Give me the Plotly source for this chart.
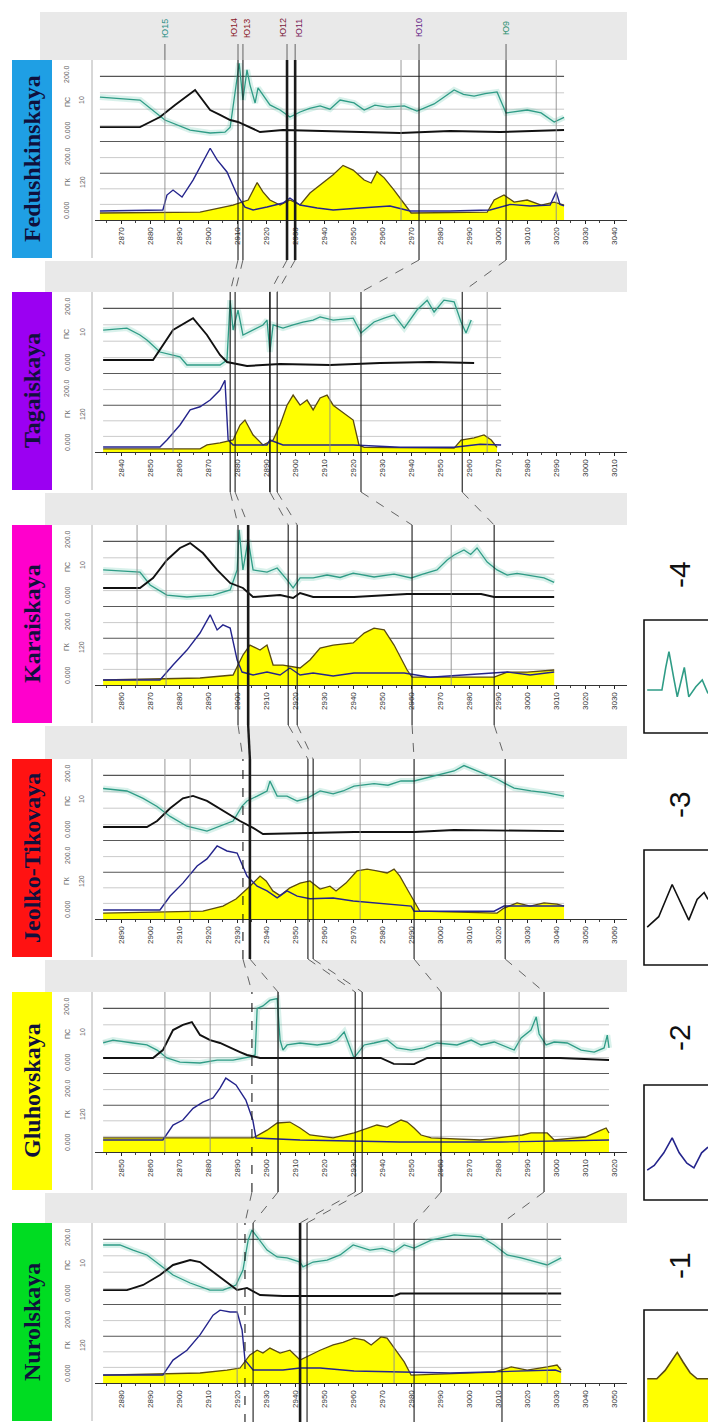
import math
import plotly.graph_objects as go

# ------------------------------------------------------------------
# Wells, top to bottom, and the first depth shown on each depth axis (m)
# ------------------------------------------------------------------
WELL_NAMES = ["Fedushkinskaya", "Tagaiskaya", "Karaiskaya",
              "Jeolko-Tikovaya", "Gluhovskaya", "Nurolskaya"]
AXIS_START = [2861, 2831, 2851, 2881, 2841, 2871]

# Log curves as (depth m, relative value 0..5) pairs
# teal / black -> upper track, blue / yellow -> lower track
FED_TEAL = [(2862.7, 2.74), (2876.5, 2.56), (2885.1, 1.34), (2893.8, 0.73), (2900.7, 0.55), (2905.8, 0.60),
            (2907.6, 0.90), (2908.6, 2.10), (2910.7, 4.80), (2912.0, 2.56), (2913.4, 4.40), (2914.4, 3.50),
            (2916.2, 2.38), (2917.2, 3.30), (2921.3, 2.26), (2924.8, 1.95), (2928.2, 1.52), (2931.7, 1.83),
            (2935.0, 2.05), (2938.6, 2.20), (2942.0, 2.00), (2945.5, 2.56), (2950.3, 2.38), (2953.8, 1.95),
            (2957.5, 2.25), (2961.7, 2.13), (2967.6, 2.20), (2972.0, 1.89), (2977.9, 2.32), (2981.0, 2.70),
            (2984.8, 3.17), (2988.0, 2.90), (2991.7, 2.80), (2995.5, 2.95), (2999.6, 3.05), (3002.7, 1.77),
            (3006.0, 1.85), (3010.0, 1.95), (3014.8, 1.77), (3019.3, 1.22), (3022.7, 1.50)]
FED_BLACK = [(2862.7, 0.91), (2876.5, 0.91), (2883.4, 1.52), (2888.6, 2.26), (2895.5, 3.17), (2900.7, 1.95),
             (2904.1, 1.65), (2907.6, 1.34), (2910.3, 1.22), (2917.9, 0.61), (2925.8, 0.73), (2950.3, 0.61),
             (2966.2, 0.55), (2983.4, 0.67), (3000.7, 0.61), (3022.7, 0.73)]
FED_BLUE = [(2862.7, 0.58), (2884.4, 0.64), (2885.8, 1.60), (2887.9, 1.92), (2891.0, 1.47), (2894.8, 2.56),
            (2900.7, 4.60), (2903.1, 3.85), (2906.5, 3.08), (2910.0, 1.60), (2912.7, 0.83), (2915.5, 0.64),
            (2920.3, 0.83), (2925.8, 1.09), (2928.2, 1.41), (2931.7, 0.96), (2937.6, 0.77), (2943.1, 0.64),
            (2952.4, 0.77), (2962.7, 0.90), (2969.6, 0.58), (2983.4, 0.58), (2997.2, 0.64), (3004.1, 1.00),
            (3011.0, 0.90), (3017.9, 0.96), (3020.0, 1.80), (3021.3, 1.00), (3022.7, 0.90)]
FED_YELLOW = [(2862.7, 0.45), (2897.2, 0.50), (2908.6, 0.96), (2913.8, 1.28), (2916.9, 2.40), (2918.9, 1.80),
              (2921.3, 1.28), (2924.8, 0.96), (2928.2, 1.28), (2931.7, 0.96), (2935.1, 1.73), (2938.6, 2.24),
              (2943.1, 2.90), (2946.5, 3.50), (2950.0, 3.20), (2953.8, 2.56), (2956.2, 2.37), (2958.2, 3.10),
              (2960.7, 2.70), (2964.1, 1.92), (2967.6, 1.09), (2970.0, 0.45), (2996.2, 0.50), (2998.6, 1.28),
              (3002.0, 1.60), (3005.5, 1.15), (3010.0, 1.28), (3014.8, 0.96), (3019.3, 1.15), (3022.7, 0.96)]

TAG_TEAL = [(2833.8, 2.68), (2842.0, 2.80), (2846.5, 2.38), (2848.9, 2.07), (2853.4, 1.34), (2860.3, 1.04),
            (2862.7, 0.55), (2874.1, 0.55), (2876.5, 0.85), (2877.6, 4.50), (2878.6, 2.68), (2880.3, 3.90),
            (2882.0, 2.38), (2885.5, 2.68), (2888.9, 2.99), (2890.3, 3.29), (2891.3, 1.34), (2892.4, 2.99),
            (2895.8, 2.80), (2899.3, 2.99), (2902.7, 3.17), (2906.2, 3.29), (2908.6, 3.48), (2913.1, 3.29),
            (2920.0, 3.41), (2922.7, 2.50), (2927.2, 3.17), (2930.7, 3.41), (2934.1, 3.60), (2937.6, 2.80),
            (2942.0, 3.90), (2945.5, 4.50), (2947.9, 3.78), (2951.3, 4.50), (2954.8, 4.40), (2957.2, 3.17),
            (2958.9, 2.50), (2960.7, 3.29)]
TAG_BLACK = [(2833.8, 0.85), (2851.0, 0.85), (2857.9, 2.68), (2864.8, 3.40), (2869.6, 2.38), (2874.1, 1.16),
             (2876.5, 0.73), (2883.4, 0.49), (2894.8, 0.61), (2912.0, 0.55), (2929.3, 0.67), (2946.5, 0.73),
             (2961.7, 0.67)]
TAG_BLUE = [(2833.8, 0.32), (2853.4, 0.32), (2855.8, 0.77), (2860.3, 1.73), (2863.8, 2.70), (2867.2, 2.90),
            (2870.7, 3.33), (2874.1, 3.97), (2875.8, 4.60), (2876.9, 0.77), (2878.6, 0.45), (2890.3, 0.45),
            (2891.3, 0.77), (2895.8, 0.45), (2920.0, 0.45), (2936.2, 0.30), (2954.8, 0.30), (2963.8, 0.50),
            (2971.0, 0.45)]
TAG_YELLOW = [(2833.8, 0.20), (2867.2, 0.20), (2869.6, 0.45), (2874.1, 0.58), (2878.6, 0.77), (2881.0, 1.73),
              (2882.7, 2.05), (2885.5, 1.09), (2888.9, 0.45), (2892.4, 0.77), (2894.8, 1.73), (2897.2, 3.00),
              (2899.3, 3.65), (2901.7, 3.00), (2904.1, 3.33), (2906.2, 2.70), (2908.6, 3.46), (2911.0, 3.65),
              (2913.1, 3.00), (2916.5, 2.56), (2920.0, 2.05), (2922.0, 0.45), (2923.8, 0.30), (2954.8, 0.25),
              (2957.2, 0.77), (2961.7, 0.90), (2965.1, 1.09), (2967.6, 0.77), (2969.6, 0.30)]

KAR_TEAL = [(2853.8, 2.26), (2866.5, 2.13), (2870.0, 1.34), (2875.8, 0.73), (2882.7, 0.61), (2891.7, 0.73),
            (2897.6, 1.04), (2900.0, 2.26), (2900.7, 4.70), (2902.0, 2.26), (2903.8, 4.10), (2905.5, 2.26),
            (2910.3, 2.13), (2913.8, 2.38), (2917.2, 1.65), (2919.3, 1.16), (2921.7, 1.77), (2926.2, 1.77),
            (2931.0, 1.95), (2935.5, 1.80), (2940.0, 2.07), (2947.2, 1.83), (2954.1, 2.00), (2960.0, 1.77),
            (2964.0, 2.00), (2968.9, 2.26), (2972.4, 2.87), (2974.8, 3.17), (2978.2, 3.48), (2980.5, 3.20),
            (2982.7, 3.60), (2986.2, 2.74), (2989.6, 2.26), (2993.1, 1.95), (2996.5, 2.05), (3000.0, 1.95),
            (3005.8, 1.77), (3009.3, 1.50)]
KAR_BLACK = [(2853.8, 1.16), (2866.5, 1.16), (2871.0, 1.77), (2875.8, 2.87), (2880.3, 3.60), (2883.8, 3.90),
             (2888.2, 3.29), (2893.1, 2.26), (2897.6, 1.46), (2902.0, 1.16), (2905.5, 0.61), (2914.8, 0.73),
             (2919.3, 0.55), (2921.7, 0.85), (2926.2, 0.61), (2940.3, 0.61), (2958.6, 0.79), (2984.1, 0.79),
             (2988.6, 0.61), (3009.3, 0.61)]
KAR_BLUE = [(2853.8, 0.32), (2873.4, 0.32), (2877.9, 1.28), (2882.7, 2.24), (2887.2, 3.33), (2890.7, 4.50),
            (2893.1, 3.53), (2895.1, 3.85), (2897.6, 3.65), (2900.0, 1.60), (2901.7, 0.83), (2905.5, 0.64),
            (2910.3, 0.83), (2914.8, 0.64), (2918.2, 1.09), (2921.7, 0.64), (2926.2, 0.77), (2933.1, 0.58),
            (2940.3, 0.77), (2957.6, 0.77), (2966.5, 0.50), (2988.6, 0.77), (2993.1, 0.83), (3001.0, 0.64),
            (3009.3, 0.83)]
KAR_YELLOW = [(2853.8, 0.32), (2887.2, 0.45), (2898.6, 0.64), (2902.0, 1.92), (2904.4, 2.56), (2907.9, 2.24),
              (2910.3, 2.56), (2912.4, 1.28), (2915.8, 1.28), (2921.7, 1.09), (2925.1, 1.60), (2928.6, 2.37),
              (2933.1, 2.56), (2940.0, 2.70), (2943.8, 3.33), (2947.2, 3.65), (2950.7, 3.53), (2954.1, 2.56),
              (2958.6, 0.96), (2960.3, 0.50), (2988.6, 0.50), (2993.1, 0.83), (3000.0, 0.83), (3009.3, 0.96)]

JEO_TEAL = [(2883.8, 3.20), (2892.0, 3.05), (2897.6, 2.60), (2902.4, 2.10), (2906.9, 1.50), (2912.7, 0.90),
            (2919.6, 0.60), (2924.1, 0.90), (2928.6, 1.22), (2931.7, 2.13), (2933.4, 2.44), (2936.9, 2.74),
            (2940.3, 3.05), (2941.3, 3.65), (2943.8, 2.74), (2947.2, 2.74), (2950.7, 2.44), (2954.1, 2.60),
            (2958.6, 3.05), (2963.1, 2.87), (2966.5, 3.05), (2970.3, 3.35), (2977.2, 3.50), (2982.0, 3.40),
            (2986.5, 3.66), (2991.0, 3.66), (2997.9, 3.96), (3004.8, 4.27), (3008.2, 4.60), (3014.1, 4.15),
            (3019.6, 3.78), (3022.0, 3.54), (3025.5, 3.23), (3031.3, 3.05), (3036.9, 2.93), (3042.7, 2.74)]
JEO_BLACK = [(2883.8, 0.85), (2898.9, 0.85), (2902.4, 1.22), (2906.9, 2.00), (2911.3, 2.60), (2914.8, 2.75),
             (2919.6, 2.44), (2926.5, 1.71), (2931.0, 1.22), (2935.5, 0.80), (2938.9, 0.43), (2970.3, 0.55),
             (2991.0, 0.55), (3004.8, 0.67), (3042.7, 0.60)]
JEO_BLUE = [(2883.8, 0.58), (2903.4, 0.58), (2906.9, 1.47), (2911.3, 2.30), (2916.2, 3.40), (2919.6, 3.85),
            (2923.1, 4.68), (2926.5, 4.36), (2930.0, 4.23), (2933.4, 2.75), (2936.9, 2.10), (2940.3, 1.80),
            (2943.8, 1.35), (2947.2, 1.80), (2950.7, 1.47), (2955.1, 1.30), (2963.1, 1.35), (2970.0, 1.15),
            (2990.0, 0.83), (2991.0, 0.50), (3018.6, 0.50), (3022.0, 0.83), (3042.7, 0.83)]
JEO_YELLOW = [(2883.8, 0.38), (2918.2, 0.50), (2925.1, 0.83), (2929.6, 1.28), (2934.4, 2.10), (2937.9, 2.75),
              (2940.0, 2.44), (2942.3, 1.80), (2944.8, 1.50), (2948.2, 2.00), (2951.7, 2.30), (2955.1, 2.44),
              (2958.6, 1.92), (2962.0, 2.10), (2964.1, 1.80), (2967.5, 2.30), (2971.3, 3.08), (2974.8, 3.20),
              (2978.2, 3.08), (2981.7, 2.95), (2984.1, 3.20), (2986.1, 2.75), (2988.6, 1.92), (2991.0, 1.15),
              (2993.0, 0.50), (3019.6, 0.38), (3022.0, 0.70), (3026.5, 1.03), (3031.0, 0.83), (3035.8, 1.03),
              (3040.3, 0.96), (3042.7, 0.83)]

GLU_TEAL = [(2843.8, 1.90), (2847.2, 2.07), (2854.1, 1.89), (2858.9, 1.77), (2862.4, 1.46), (2865.8, 0.98),
            (2870.3, 0.73), (2877.2, 0.67), (2883.1, 0.85), (2888.6, 0.85), (2894.4, 1.04), (2896.2, 1.16),
            (2896.9, 4.00), (2898.9, 4.15), (2901.3, 4.50), (2903.8, 4.60), (2904.8, 2.07), (2905.8, 1.46),
            (2907.2, 1.77), (2911.7, 1.89), (2917.6, 1.77), (2922.1, 1.89), (2924.5, 2.07), (2926.9, 2.56),
            (2930.3, 0.98), (2933.8, 1.77), (2937.2, 1.89), (2941.7, 2.07), (2945.1, 1.59), (2950.0, 1.46),
            (2954.4, 1.59), (2958.9, 1.89), (2965.8, 1.77), (2970.7, 2.07), (2974.1, 1.77), (2978.6, 1.95),
            (2985.5, 1.46), (2987.9, 2.20), (2991.3, 2.68), (2993.1, 3.48), (2994.1, 2.44), (2996.5, 1.77),
            (2999.3, 1.95), (3003.8, 1.89), (3008.6, 1.46), (3013.1, 1.34), (3016.5, 1.59), (3017.6, 2.37),
            (3018.2, 1.59)]
GLU_BLACK = [(2843.8, 0.98), (2861.0, 0.98), (2864.4, 1.46), (2867.9, 2.68), (2871.3, 2.99), (2874.4, 3.17),
             (2877.2, 2.38), (2880.7, 2.07), (2884.1, 1.89), (2887.6, 1.59), (2891.0, 1.34), (2893.4, 1.16),
             (2897.9, 0.98), (2939.5, 0.98), (2944.0, 0.62), (2951.0, 0.60), (2955.5, 0.98), (3001.3, 0.98),
             (3018.2, 0.85)]
GLU_BLUE = [(2843.8, 0.77), (2864.4, 0.77), (2867.9, 1.73), (2871.3, 2.05), (2874.8, 2.80), (2878.2, 3.20),
            (2881.7, 3.46), (2884.1, 4.10), (2886.1, 4.74), (2889.6, 4.30), (2893.0, 3.33), (2895.4, 2.05),
            (2896.5, 0.90), (2911.7, 0.77), (2946.2, 0.64), (2980.7, 0.64), (3018.2, 0.77)]
GLU_YELLOW = [(2843.8, 0.90), (2888.6, 0.90), (2895.5, 0.90), (2900.3, 1.40), (2903.8, 1.86), (2908.2, 1.92),
              (2911.7, 1.54), (2915.1, 1.09), (2923.1, 0.90), (2930.3, 1.22), (2934.8, 1.54), (2938.2, 1.73),
              (2941.7, 1.60), (2946.5, 2.05), (2948.6, 1.92), (2951.0, 1.54), (2953.4, 1.09), (2956.9, 0.90),
              (2973.8, 0.77), (2988.3, 1.09), (2991.3, 1.22), (2996.9, 1.22), (2999.3, 0.77), (3010.0, 0.96),
              (3015.5, 1.40), (3017.2, 1.54), (3018.2, 1.22)]

NUR_TEAL = [(2873.8, 3.66), (2879.6, 3.66), (2884.1, 3.35), (2888.9, 3.05), (2893.4, 2.44), (2897.9, 1.83),
            (2903.8, 1.34), (2910.6, 0.91), (2915.1, 0.91), (2919.6, 1.22), (2922.0, 2.13), (2923.8, 3.96),
            (2925.1, 4.57), (2926.9, 4.15), (2930.3, 3.35), (2933.8, 2.93), (2937.2, 2.87), (2941.7, 2.62),
            (2942.7, 2.32), (2946.2, 2.62), (2951.0, 2.74), (2955.5, 3.05), (2960.0, 3.66), (2965.8, 3.35),
            (2970.0, 3.45), (2974.1, 3.23), (2977.6, 3.66), (2981.0, 3.47), (2986.9, 3.96), (2994.8, 4.27),
            (3000.0, 4.20), (3004.1, 4.15), (3008.6, 3.66), (3013.1, 3.05), (3017.9, 2.87), (3023.4, 2.62),
            (3026.9, 2.44), (3031.7, 2.87)]
NUR_BLACK = [(2873.8, 0.91), (2882.0, 0.91), (2887.6, 1.22), (2893.4, 1.83), (2897.9, 2.44), (2903.8, 2.74),
             (2907.2, 2.62), (2911.7, 2.01), (2916.5, 1.34), (2920.0, 0.91), (2923.4, 1.04), (2927.9, 0.61),
             (2935.8, 0.55), (2960.3, 0.55), (2968.2, 0.58), (2974.1, 0.55), (2976.2, 0.70), (3031.7, 0.70)]
NUR_BLUE = [(2873.8, 0.51), (2894.4, 0.51), (2897.9, 1.47), (2902.7, 2.10), (2907.2, 3.08), (2911.7, 4.35),
            (2914.1, 4.67), (2917.6, 4.55), (2920.0, 4.55), (2921.7, 3.40), (2922.7, 1.47), (2925.5, 0.83),
            (2935.8, 0.83), (2941.7, 0.96), (2948.6, 0.96), (2960.3, 0.77), (2993.4, 0.64), (3029.7, 0.83),
            (3031.7, 0.70)]
NUR_YELLOW = [(2873.8, 0.50), (2907.2, 0.64), (2916.5, 0.83), (2921.0, 0.96), (2924.4, 1.80), (2926.9, 2.10),
              (2928.9, 1.92), (2931.3, 2.24), (2934.8, 1.92), (2938.2, 2.10), (2941.7, 1.47), (2945.1, 1.80),
              (2948.6, 2.10), (2953.1, 2.44), (2956.5, 2.60), (2960.3, 2.88), (2963.8, 2.75), (2966.2, 2.44),
              (2969.6, 2.95), (2971.7, 2.88), (2974.1, 2.24), (2977.6, 1.35), (2980.0, 0.50), (3008.6, 0.70),
              (3014.5, 1.03), (3020.0, 0.83), (3026.9, 1.03), (3030.3, 1.15), (3031.7, 0.83)]

# Correlated horizons (same order in every well) and extra reference depths, m
FED_HORIZONS = [2910.3, 2912.0, 2927.2, 2930.0, 2972.7, 3002.7]
TAG_HORIZONS = [2877.6, 2879.3, 2891.3, 2893.8, 2922.7, 2957.6]
KAR_HORIZONS = [2900.3, 2903.8, 2917.6, 2920.7, 2960.3, 2988.6]
JEO_HORIZONS = [2932.0, 2934.4, 2954.4, 2956.2, 2991.0, 3022.4]
GLU_HORIZONS = [2895.1, 2904.1, 2930.7, 2933.1, 2960.3, 2995.8]
NUR_HORIZONS = [2922.7, 2925.5, 2941.7, 2944.1, 2981.0, 3011.3]

FED_GRID = [2885.1, 2966.5, 3020.0]
TAG_GRID = [2857.9, 2912.0, 2966.2]
KAR_GRID = [2865.5, 2875.5, 2973.8]
JEO_GRID = [2905.1, 2913.8, 2972.4]
GLU_GRID = [2865.1, 2880.7, 2987.2]
NUR_GRID = [2895.1, 2920.0, 2974.1, 3026.9]

# Horizon names shown in the header above the first well
HEADER_DEPTHS = [FED_GRID[0]] + FED_HORIZONS
HEADER_TEXT = ["Ю15", "Ю14", "Ю13", "Ю12", "Ю11", "Ю10", "Ю9"]

# Legend icons (x 0..10, y 0..10) and captions
LEGEND_CAPTIONS = ["-1", "-2", "-3", "-4"]
ICON_X_YELLOW = [0.5, 2.0, 3.3, 4.2, 5.2, 6.1, 7.2, 8.3, 10.0]
ICON_Y_YELLOW = [3.6, 3.6, 4.3, 5.0, 5.8, 5.0, 4.1, 3.6, 3.6]
ICON_X_BLUE = [0.5, 1.6, 3.1, 4.4, 5.5, 6.7, 7.8, 9.0, 10.0]
ICON_Y_BLUE = [2.6, 3.0, 4.1, 5.4, 4.1, 3.2, 2.8, 4.1, 4.6]
ICON_X_BLACK = [0.5, 2.3, 4.4, 6.0, 7.0, 8.3, 9.4, 10.0]
ICON_Y_BLACK = [3.3, 4.2, 7.0, 5.0, 3.9, 5.7, 6.3, 5.7]
ICON_X_TEAL = [0.5, 2.8, 3.4, 3.9, 4.7, 5.2, 6.3, 7.0, 8.1, 9.1, 10.0]
ICON_Y_TEAL = [3.8, 3.8, 5.8, 7.2, 4.7, 3.2, 5.8, 3.2, 4.1, 4.7, 3.5]

# ------------------------------------------------------------------
# Grouping per well
# ------------------------------------------------------------------
TEAL = [FED_TEAL, TAG_TEAL, KAR_TEAL, JEO_TEAL, GLU_TEAL, NUR_TEAL]
BLACK = [FED_BLACK, TAG_BLACK, KAR_BLACK, JEO_BLACK, GLU_BLACK, NUR_BLACK]
BLUE = [FED_BLUE, TAG_BLUE, KAR_BLUE, JEO_BLUE, GLU_BLUE, NUR_BLUE]
YELLOW = [FED_YELLOW, TAG_YELLOW, KAR_YELLOW, JEO_YELLOW, GLU_YELLOW, NUR_YELLOW]
HORIZONS = [FED_HORIZONS, TAG_HORIZONS, KAR_HORIZONS, JEO_HORIZONS, GLU_HORIZONS, NUR_HORIZONS]
GRIDS = [FED_GRID, TAG_GRID, KAR_GRID, JEO_GRID, GLU_GRID, NUR_GRID]

# ------------------------------------------------------------------
# Layout geometry and styles (pixels of the 708 x 1422 page)
# ------------------------------------------------------------------
W, H = 708, 1422
PANEL_TOP = [60, 292, 525, 759, 992, 1223]
UPPER_H, LOWER_H, BLOCK_H = 82, 78, 198
X0_PX, X1_PX = 95, 627
DEPTH_SPAN = 183.4
BOX_COLORS = ["#1f9fe4", "#9b00f2", "#ff00cc", "#ff1212", "#ffff00", "#00dc22"]
HEADER_COLORS = ["#2a8f86", "#8b1a2a", "#8b1a2a", "#7a1a3a", "#7a1a5a", "#6a2a8a", "#2a8f70"]
HORIZON_WIDTH = [[1.1, 1.1, 2.6, 2.6, 1.1, 1.1],
                 [1.1, 1.1, 1.6, 1.1, 1.1, 1.1],
                 [1.1, 2.6, 1.1, 1.1, 1.1, 1.1],
                 [1.1, 2.6, 1.1, 1.1, 1.1, 1.1],
                 [1.1, 1.3, 1.1, 1.1, 1.1, 1.1],
                 [1.1, 1.1, 2.6, 1.1, 1.1, 1.1]]
HORIZON_DASH = [["solid"] * 6, ["solid"] * 6, ["solid"] * 6,
                ["dash"] + ["solid"] * 5, ["dash"] + ["solid"] * 5, ["dash"] + ["solid"] * 5]
TEAL_C, BLACK_C, BLUE_C, YEL_C, YEL_LINE = "#2f9c86", "#111111", "#24248c", "#ffff00", "#5a4a12"


def ypx(p):
    return 1 - p / H


def xpx(p):
    return p / W


XDOM = [xpx(X0_PX), xpx(X1_PX)]


def depth_x(i, d):
    """Paper x of depth d on the depth axis of well i."""
    return XDOM[0] + (d - AXIS_START[i]) / DEPTH_SPAN * (XDOM[1] - XDOM[0])


def ax_name(kind, k):
    return f"{kind}axis" if k == 1 else f"{kind}axis{k}"


def ax_ref(kind, k):
    return kind if k == 1 else f"{kind}{k}"


def unzip(pairs):
    return [p[0] for p in pairs], [p[1] for p in pairs]


def label(x, y, text, size, color, family="Liberation Sans", xref="paper", xshift=0):
    return dict(xref=xref, yref="paper", x=x, y=y, text=text, textangle=-90, showarrow=False,
                xanchor="center", yanchor="middle", xshift=xshift,
                font=dict(family=family, size=size, color=color))


fig = go.Figure()
shapes, annotations, axes = [], [], {}
FONT = "Liberation Sans"

# header band and gaps between wells
shapes.append(dict(type="rect", xref="paper", yref="paper", x0=xpx(40), x1=xpx(627),
                   y0=ypx(60), y1=ypx(12), fillcolor="#e9e9e9", line=dict(width=0), layer="below"))
for i in range(len(WELL_NAMES) - 1):
    shapes.append(dict(type="rect", xref="paper", yref="paper", x0=xpx(45), x1=xpx(627),
                       y0=ypx(PANEL_TOP[i + 1]), y1=ypx(PANEL_TOP[i] + BLOCK_H + 3),
                       fillcolor="#e9e9e9", line=dict(width=0), layer="below"))

for i, name in enumerate(WELL_NAMES):
    T = PANEL_TOP[i]
    r0 = AXIS_START[i]
    xk, ylk, yuk = i + 1, 2 * i + 1, 2 * i + 2
    xr, ylr, yur = ax_ref("x", xk), ax_ref("y", ylk), ax_ref("y", yuk)

    first = math.ceil(r0 / 10) * 10
    ticks = list(range(first, int(r0 + DEPTH_SPAN) + 1, 10))
    axes[ax_name("x", xk)] = dict(
        domain=XDOM, range=[r0, r0 + DEPTH_SPAN], anchor=ylr,
        tickmode="array", tickvals=ticks, ticktext=[str(t) for t in ticks],
        tickangle=-90, tickfont=dict(family=FONT, size=8, color="#333"),
        ticks="outside", ticklen=3, tickcolor="#222", showline=True, linecolor="#333",
        linewidth=1, showgrid=False, zeroline=False, fixedrange=True,
        minor=dict(ticks="outside", ticklen=2, dtick=5, tickcolor="#444"))
    common_y = dict(range=[0, 5], anchor=xr, showticklabels=False, showgrid=False,
                    zeroline=False, ticks="", fixedrange=True)
    axes[ax_name("y", ylk)] = dict(domain=[ypx(T + UPPER_H + LOWER_H), ypx(T + UPPER_H)], **common_y)
    axes[ax_name("y", yuk)] = dict(domain=[ypx(T + UPPER_H), ypx(T)], **common_y)

    # track grid, drawn over the logged interval
    d_start = min(c[0][0] for c in (TEAL[i], BLACK[i], BLUE[i], YELLOW[i]))
    d_end = max(c[-1][0] for c in (TEAL[i], BLACK[i], BLUE[i], YELLOW[i]))
    for yr, dark in ((yur, 4), (ylr, 3)):
        for lvl in (1, 2, 3, 4):
            shapes.append(dict(type="line", xref=xr, yref=yr, x0=d_start, x1=d_end, y0=lvl, y1=lvl,
                               line=dict(color="#555" if lvl == dark else "#bcbcbc",
                                         width=1.1 if lvl == dark else 0.8), layer="below"))
    shapes.append(dict(type="line", xref=xr, yref=yur, x0=d_start, x1=d_end, y0=0, y1=0,
                       line=dict(color="#222", width=1.4), layer="below"))

    # curves
    d, v = unzip(YELLOW[i])
    fig.add_trace(go.Scatter(x=d, y=v, mode="lines", fill="tozeroy", fillcolor=YEL_C,
                             line=dict(color=YEL_LINE, width=1.3), xaxis=xr, yaxis=ylr, hoverinfo="skip"))
    d, v = unzip(BLUE[i])
    fig.add_trace(go.Scatter(x=d, y=v, mode="lines", line=dict(color=BLUE_C, width=1.4),
                             xaxis=xr, yaxis=ylr, hoverinfo="skip"))
    d, v = unzip(TEAL[i])
    fig.add_trace(go.Scatter(x=d, y=v, mode="lines", line=dict(color="rgba(80,190,165,0.22)", width=6),
                             xaxis=xr, yaxis=yur, hoverinfo="skip"))
    fig.add_trace(go.Scatter(x=d, y=v, mode="lines", line=dict(color=TEAL_C, width=1.3),
                             xaxis=xr, yaxis=yur, hoverinfo="skip"))
    d, v = unzip(BLACK[i])
    fig.add_trace(go.Scatter(x=d, y=v, mode="lines", line=dict(color=BLACK_C, width=1.9),
                             xaxis=xr, yaxis=yur, hoverinfo="skip"))

    # reference depths and horizons
    for g in GRIDS[i]:
        shapes.append(dict(type="line", xref=xr, yref="paper", x0=g, x1=g,
                           y0=ypx(T + UPPER_H + LOWER_H), y1=ypx(T),
                           line=dict(color="#8c8c8c", width=0.9)))
    for h, hd in enumerate(HORIZONS[i]):
        shapes.append(dict(type="line", xref=xr, yref="paper", x0=hd, x1=hd,
                           y0=ypx(T + BLOCK_H + 2), y1=ypx(T),
                           line=dict(color="#1a1a1a", width=HORIZON_WIDTH[i][h],
                                     dash=HORIZON_DASH[i][h])))

    # left edge of the depth column
    shapes.append(dict(type="line", xref="paper", yref="paper", x0=xpx(92), x1=xpx(92),
                       y0=ypx(T + BLOCK_H), y1=ypx(T), line=dict(color="#b0b0b0", width=1)))

    # well name box
    shapes.append(dict(type="rect", xref="paper", yref="paper", x0=xpx(12), x1=xpx(52),
                       y0=ypx(T + BLOCK_H), y1=ypx(T), fillcolor=BOX_COLORS[i],
                       line=dict(width=0), layer="below"))
    annotations.append(label(xpx(32), ypx(T + BLOCK_H / 2), f"<b>{name}</b>", 24, "#10103c",
                             family="Liberation Serif"))

    # curve scale captions
    for txt, yy, xx in (("200.0", T + 14, 67), ("ПС", T + 42, 67), ("0.000", T + 70, 67),
                        ("200.0", T + 96, 67), ("ГК", T + 122, 67), ("0.000", T + 150, 67),
                        ("10", T + 40, 82), ("120", T + 122, 82)):
        annotations.append(label(xpx(xx), ypx(yy), txt, 7, "#666"))

# correlation lines between neighbouring wells
for i in range(len(WELL_NAMES) - 1):
    y_top = ypx(PANEL_TOP[i] + BLOCK_H + 2)
    y_bot = ypx(PANEL_TOP[i + 1])
    for h in range(len(HORIZONS[i])):
        thick = HORIZON_WIDTH[i][h] > 2 and HORIZON_WIDTH[i + 1][h] > 2
        shapes.append(dict(type="line", xref="paper", yref="paper",
                           x0=depth_x(i, HORIZONS[i][h]), y0=y_top,
                           x1=depth_x(i + 1, HORIZONS[i + 1][h]), y1=y_bot,
                           line=dict(color="#1a1a1a" if thick else "#555",
                                     width=2.4 if thick else 0.9,
                                     dash="solid" if thick else "dash")))

# header labels for the first well
for k, (hd, txt) in enumerate(zip(HEADER_DEPTHS, HEADER_TEXT)):
    shapes.append(dict(type="line", xref="x", yref="paper", x0=hd, x1=hd,
                       y0=ypx(PANEL_TOP[0]), y1=ypx(44), line=dict(color="#555", width=0.9)))
    shift = -4 if k in (1, 3) else (4 if k in (2, 4) else 0)
    annotations.append(label(hd, ypx(28), txt, 9, HEADER_COLORS[k], xref="x", xshift=shift))

# legend: four framed icons with captions
LEGEND_BOX = [(1310, 1430), (1085, 1200), (850, 965), (620, 733)]
LEGEND_TEXT_Y = [1266, 1038, 805, 575]
ICONS = [(ICON_X_YELLOW, ICON_Y_YELLOW, YEL_LINE), (ICON_X_BLUE, ICON_Y_BLUE, BLUE_C),
         (ICON_X_BLACK, ICON_Y_BLACK, BLACK_C), (ICON_X_TEAL, ICON_Y_TEAL, TEAL_C)]
for j, ((top, bot), (ix, iy, col)) in enumerate(zip(LEGEND_BOX, ICONS)):
    k = 7 + j
    yk = 13 + j
    xr, yr = ax_ref("x", k), ax_ref("y", yk)
    axes[ax_name("x", k)] = dict(domain=[xpx(644), 1.0], range=[0, 10], anchor=yr, visible=False,
                                 fixedrange=True)
    axes[ax_name("y", yk)] = dict(domain=[max(0.0, ypx(bot)), ypx(top)],
                                  range=[0, 10 * (min(bot, H) - top) / (bot - top)] if bot > H else [0, 10],
                                  anchor=xr, visible=False, fixedrange=True)
    if j == 0:
        fig.add_trace(go.Scatter(x=ix, y=iy, mode="lines", fill="tozeroy", fillcolor=YEL_C,
                                 line=dict(color=col, width=1.6), xaxis=xr, yaxis=yr, hoverinfo="skip"))
    else:
        fig.add_trace(go.Scatter(x=ix, y=iy, mode="lines", line=dict(color=col, width=1.6),
                                 xaxis=xr, yaxis=yr, hoverinfo="skip"))
    shapes.append(dict(type="rect", xref="paper", yref="paper", x0=xpx(644), x1=1.05,
                       y0=ypx(bot), y1=ypx(top), line=dict(color="#111", width=1.6)))
    annotations.append(label(xpx(679), ypx(LEGEND_TEXT_Y[j]), LEGEND_CAPTIONS[j], 30, "#111"))

fig.update_layout(width=W, height=H, margin=dict(l=0, r=0, t=0, b=0),
                  paper_bgcolor="white", plot_bgcolor="rgba(0,0,0,0)", showlegend=False,
                  shapes=shapes, annotations=annotations, **axes)
fig.write_html("out.html")
